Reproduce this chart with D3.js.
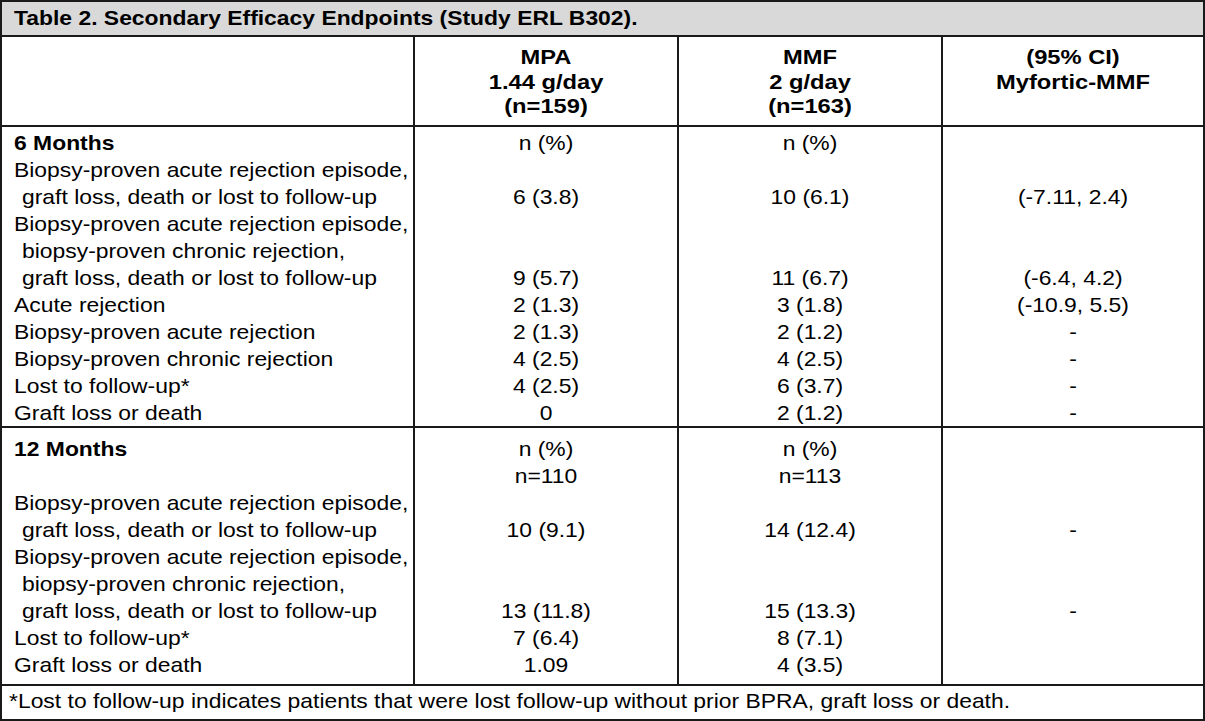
<!DOCTYPE html>
<html><head><meta charset="utf-8">
<script src="https://cdn.jsdelivr.net/npm/d3@7"></script>
<style>body{margin:0;background:#fff}svg{display:block}</style>
</head><body>
<script>
const title = "Table 2. Secondary Efficacy Endpoints (Study ERL B302).";
const columns = ["", "MPA\n1.44 g/day\n(n=159)", "MMF\n2 g/day\n(n=163)", "(95% CI)\nMyfortic-MMF"];
const footnote = "*Lost to follow-up indicates patients that were lost follow-up without prior BPRA, graft loss or death.";
const sections = [
  {head: ["6 Months"], mpaHead: ["n (%)"], mmfHead: ["n (%)"]},
  {head: ["12 Months", ""], mpaHead: ["n (%)", "n=110"], mmfHead: ["n (%)", "n=113"]}
];
const labels6 = [
  ["Biopsy-proven acute rejection episode,", " graft loss, death or lost to follow-up"],
  ["Biopsy-proven acute rejection episode,", " biopsy-proven chronic rejection,", " graft loss, death or lost to follow-up"],
  ["Acute rejection"], ["Biopsy-proven acute rejection"], ["Biopsy-proven chronic rejection"],
  ["Lost to follow-up*"], ["Graft loss or death"]
];
const mpa6 = ["6 (3.8)", "9 (5.7)", "2 (1.3)", "2 (1.3)", "4 (2.5)", "4 (2.5)", "0"];
const mmf6 = ["10 (6.1)", "11 (6.7)", "3 (1.8)", "2 (1.2)", "4 (2.5)", "6 (3.7)", "2 (1.2)"];
const ci6 = ["(-7.11, 2.4)", "(-6.4, 4.2)", "(-10.9, 5.5)", "-", "-", "-", "-"];
const labels12 = [
  ["Biopsy-proven acute rejection episode,", " graft loss, death or lost to follow-up"],
  ["Biopsy-proven acute rejection episode,", " biopsy-proven chronic rejection,", " graft loss, death or lost to follow-up"],
  ["Lost to follow-up*"], ["Graft loss or death"]
];
const mpa12 = ["10 (9.1)", "13 (11.8)", "7 (6.4)", "1.09"];
const mmf12 = ["14 (12.4)", "15 (13.3)", "8 (7.1)", "4 (3.5)"];
const ci12 = ["-", "-", "", ""];

const W = 1205, H = 721;
const SX = 1.145;
const svg = d3.select("body").append("svg").attr("width", W).attr("height", H);
const colX = d3.scaleOrdinal().domain([0,1,2,3,4]).range([1, 414, 678, 942, 1204]);
const colCenter = i => (colX(i) + colX(i+1)) / 2;
const lineH = 27;
const font = "'Liberation Sans', Arial, Helvetica, sans-serif";
const stroke = "#1a1a1a";

function addText(parent, x, y, str, o = {}) {
  return parent.append("text")
    .attr("transform", `translate(${x},${y}) scale(${SX},1)`)
    .attr("font-family", font)
    .attr("font-size", o.size || 20)
    .attr("font-weight", o.bold ? "bold" : "normal")
    .attr("text-anchor", o.anchor || "start")
    .attr("fill", "#000")
    .text(str);
}

// title bar
svg.append("rect").attr("x", 1).attr("y", 1).attr("width", W-2).attr("height", 35).attr("fill", "#d9d9d9");
addText(svg, 14, 25, title, {bold: true, size: 20});

// header
columns.forEach((c, i) => {
  if (!c) return;
  c.split("\n").forEach((s, k) => addText(svg, colCenter(i), 64 + k*24.5, s, {bold: true, size: 20.7, anchor: "middle"}));
});

// body rows
function buildRows(sec, labels, mpa, mmf, ci) {
  const rows = [];
  sec.head.forEach((h, k) => rows.push({label: h, bold: true, indent: false, mpa: sec.mpaHead[k] || "", mmf: sec.mmfHead[k] || "", ci: ""}));
  labels.forEach((ls, i) => {
    ls.forEach((l, k) => {
      const last = k === ls.length - 1;
      rows.push({label: l.trim(), bold: false, indent: l.startsWith(" "),
        mpa: last ? mpa[i] : "", mmf: last ? mmf[i] : "", ci: last ? ci[i] : ""});
    });
  });
  return rows;
}
const rows6 = buildRows(sections[0], labels6, mpa6, mmf6, ci6);
const rows12 = buildRows(sections[1], labels12, mpa12, mmf12, ci12);

function drawRows(rows, y0) {
  const y = d3.scaleLinear().domain([0, 1]).range([y0, y0 + lineH]);
  const g = svg.append("g");
  rows.forEach((r, i) => {
    addText(g, r.indent ? 22 : 14, y(i), r.label, {bold: r.bold});
    [r.mpa, r.mmf, r.ci].forEach((v, j) => {
      if (v) addText(g, colCenter(j+1), y(i), v, {anchor: "middle"});
    });
  });
}
drawRows(rows6, 150);
drawRows(rows12, 456);

addText(svg, 9, 708, footnote, {size: 20});

// grid lines
const hl = [36, 126, 427, 685];
hl.forEach(yv => svg.append("line").attr("x1", 1).attr("x2", W-1).attr("y1", yv).attr("y2", yv)
  .attr("stroke", stroke).attr("stroke-width", 2));
[1,2,3].forEach(i => svg.append("line").attr("x1", colX(i)).attr("x2", colX(i)).attr("y1", 36).attr("y2", 685)
  .attr("stroke", stroke).attr("stroke-width", 2));
svg.append("rect").attr("x", 1).attr("y", 1).attr("width", W-2).attr("height", H-2)
  .attr("fill", "none").attr("stroke", stroke).attr("stroke-width", 2);
</script>
</body></html>
